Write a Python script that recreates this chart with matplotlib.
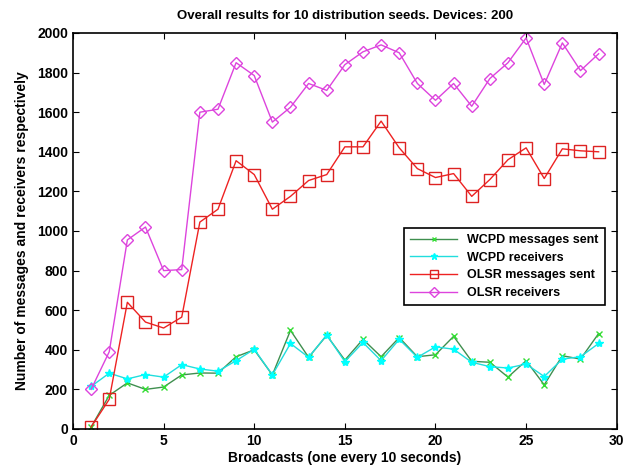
import numpy as np
import matplotlib.pyplot as plt

plt.rcParams['font.family'] = ['Liberation Sans', 'DejaVu Sans']
plt.rcParams['font.weight'] = 'bold'

# broadcasts
x = np.arange(1, 30)

wcpd_sent = [10, 170, 233, 200, 212, 273, 283, 282, 365, 400,
             273, 498, 362, 473, 348, 453, 365, 462, 365, 375,
             468, 342, 337, 262, 345, 223, 370, 353, 482]
wcpd_recv = [215, 282, 253, 275, 262, 325, 303, 292, 345, 403,
             273, 432, 362, 475, 340, 437, 345, 453, 362, 415,
             403, 337, 315, 308, 328, 265, 353, 365, 432]
olsr_sent = [10, 150, 640, 540, 510, 565, 1045, 1110, 1355, 1285,
             1110, 1175, 1255, 1285, 1425, 1425, 1555, 1420, 1315, 1270,
             1290, 1175, 1260, 1360, 1420, 1265, 1415, 1405, 1400]
olsr_recv = [200, 390, 955, 1020, 800, 805, 1600, 1615, 1850, 1785,
             1550, 1625, 1745, 1710, 1840, 1905, 1940, 1900, 1745, 1660,
             1745, 1630, 1770, 1850, 1975, 1740, 1950, 1810, 1895]

fig = plt.figure(figsize=(6.33, 4.66), dpi=100)
ax = fig.add_axes([0.1153, 0.0794, 0.859, 0.8498])

ax.plot(x, wcpd_sent, color='#3f8f4f', lw=1.0, marker='x', ms=4,
        mec='#33dd33', mew=1.0, label='WCPD messages sent')
ax.plot(x, wcpd_recv, color='#22dddd', lw=1.0, marker='*', ms=6,
        mec='#00ffff', mfc='#00ffff', label='WCPD receivers')
ax.plot(x, olsr_sent, color='#ee2222', lw=1.0, marker='s', ms=8,
        mfc='none', mec='#dd2222', mew=1.0, label='OLSR messages sent')
ax.plot(x, olsr_recv, color='#dd44dd', lw=1.0, marker='D', ms=6.5,
        mfc='none', mec='#dd44dd', mew=1.0, label='OLSR receivers')

ax.set_xlim(0, 30)
ax.set_ylim(0, 2000)
ax.set_xticks(np.arange(0, 31, 5))
ax.set_yticks(np.arange(0, 2001, 200))
ax.tick_params(direction='in', top=True, right=True, labelsize=10, length=4)
for s in ax.spines.values():
    s.set_linewidth(1.2)

ax.set_title('Overall results for 10 distribution seeds. Devices: 200',
             fontsize=9.5, fontweight='bold', pad=10)
ax.set_xlabel('Broadcasts (one every 10 seconds)', fontsize=10, fontweight='bold', labelpad=2)
ax.set_ylabel('Number of messages and receivers respectively', fontsize=10,
              fontweight='bold', labelpad=6)

leg = ax.legend(loc='upper left', bbox_to_anchor=(0.608, 0.508), borderaxespad=0,
                fontsize=9, fancybox=False, edgecolor='black', framealpha=1,
                handlelength=3.8, borderpad=0.5, labelspacing=0.45, markerscale=0.75)
leg.get_frame().set_linewidth(1.2)

fig.savefig('out.png', dpi=100)
